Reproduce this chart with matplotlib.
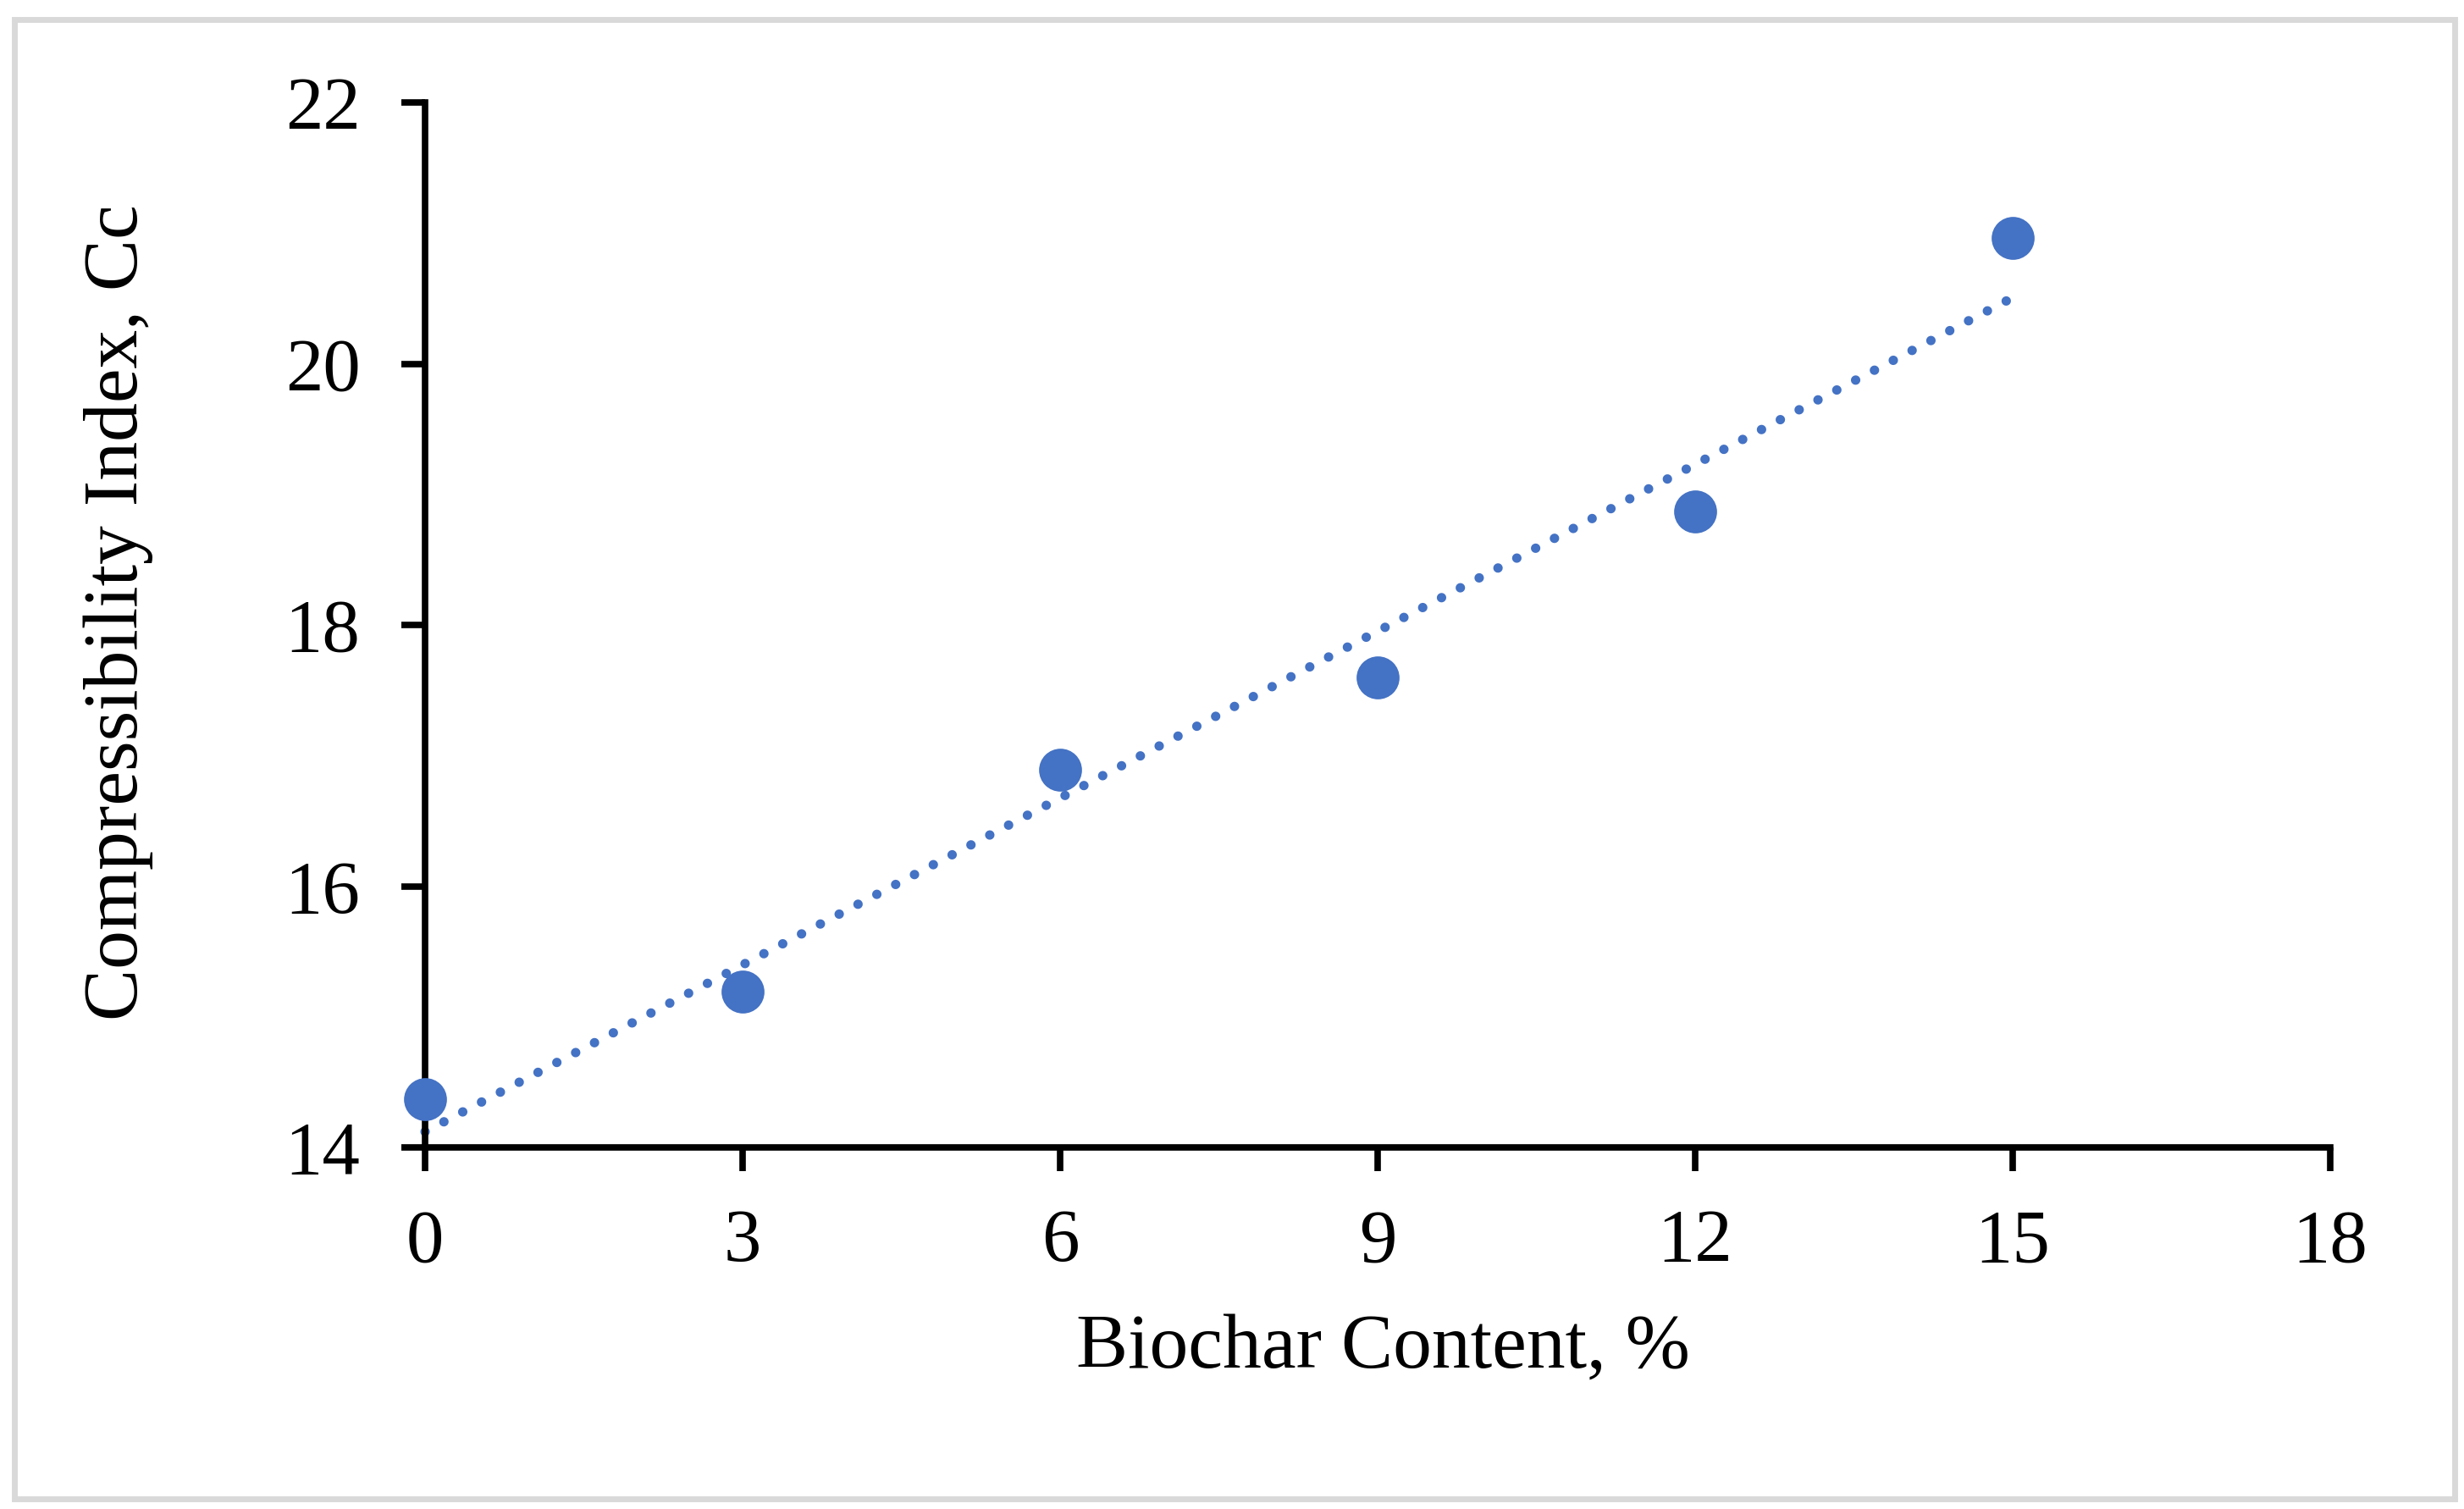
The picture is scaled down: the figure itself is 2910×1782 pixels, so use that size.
import numpy as np
import matplotlib
matplotlib.use("Agg")
import matplotlib.pyplot as plt
from matplotlib.patches import Rectangle

biochar = [0, 3, 6, 9, 12, 15]
cc = [14.37, 15.19, 16.89, 17.60, 18.87, 20.96]
x_ticks = [0, 3, 6, 9, 12, 15, 18]
y_ticks = [14, 16, 18, 20, 22]

blue = "#4472C4"
plt.rcParams["font.family"] = ["Liberation Serif", "DejaVu Serif"]

fig = plt.figure(figsize=(29.1, 17.82), dpi=100)
ax = fig.add_axes([0.1725, 0.2396, 0.9457 - 0.1725, 0.9321 - 0.2396])

# linear trendline like excel
slope, inter = np.polyfit(biochar, cc, 1)
xs = np.array([biochar[0], biochar[-1]])
ax.plot(xs, slope * xs + inter, color=blue, lw=8,
        linestyle=(0, (0.01, 2.25)), dash_capstyle="round", clip_on=False)
ax.plot(biochar, cc, "o", color=blue, ms=36.5, mec="none", clip_on=False, zorder=5)

ax.set_xlim(0, 18)
ax.set_ylim(14, 22)
ax.set_xticks(x_ticks)
ax.set_yticks(y_ticks)
for s in ["top", "right"]:
    ax.spines[s].set_visible(False)
for s in ["left", "bottom"]:
    ax.spines[s].set_linewidth(5.5)
ax.tick_params(axis="both", direction="out", length=20, width=5.5, labelsize=64)
ax.tick_params(axis="y", pad=35)
ax.tick_params(axis="x", pad=32)

ax.set_xlabel("Biochar Content, %", fontsize=66, va="center")
ax.set_ylabel("Compressibility Index, Cc", fontsize=66, va="center")
ax.xaxis.set_label_coords(0.503, -0.192)
ax.yaxis.set_label_coords(-0.161, 0.512)

# light gray frame around figure
fig.patches.append(Rectangle((17 / 2910, 1 - 1770 / 1782), (2899 - 17) / 2910, (1770 - 23) / 1782,
                             transform=fig.transFigure, fill=False, ec="#D9D9D9", lw=5))

fig.savefig("out.png", dpi=100)
